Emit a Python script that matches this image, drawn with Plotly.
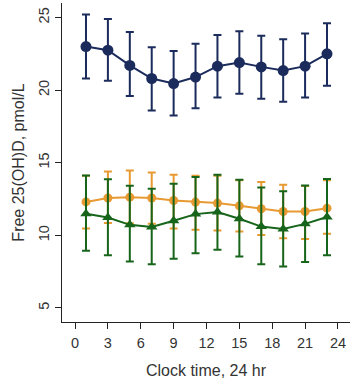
import plotly.graph_objects as go

hours = [1, 3, 5, 7, 9, 11, 13, 15, 17, 19, 21, 23]

blue_mean = [23.0, 22.75, 21.7, 20.8, 20.45, 20.9, 21.65, 21.9, 21.6, 21.35, 21.65, 22.5]
blue_upper = [25.2, 24.9, 24.0, 22.95, 22.7, 23.2, 23.8, 24.05, 23.75, 23.5, 23.9, 24.6]
blue_lower = [20.8, 20.65, 19.6, 18.6, 18.25, 18.75, 19.5, 19.75, 19.4, 19.2, 19.5, 20.3]

orange_mean = [12.3, 12.57, 12.63, 12.57, 12.4, 12.29, 12.22, 12.03, 11.83, 11.64, 11.64, 11.87]
orange_upper = [14.1, 14.4, 14.47, 14.33, 14.17, 14.1, 14.1, 13.8, 13.67, 13.48, 13.4, 13.8]
orange_lower = [10.47, 10.84, 10.83, 10.8, 10.47, 10.38, 10.33, 10.26, 10.03, 9.8, 9.74, 10.1]

green_mean = [11.48, 11.23, 10.72, 10.57, 11.0, 11.46, 11.6, 11.14, 10.6, 10.43, 10.79, 11.26]
green_upper = [14.12, 13.87, 13.41, 13.21, 13.55, 14.01, 14.17, 13.83, 13.3, 13.03, 13.43, 13.88]
green_lower = [8.93, 8.63, 8.2, 8.01, 8.38, 8.77, 9.0, 8.54, 8.0, 7.85, 8.17, 8.63]

x_ticks = [0, 3, 6, 9, 12, 15, 18, 21, 24]
y_ticks = [5, 10, 15, 20, 25]

series = [
    ("navy", blue_mean, blue_upper, blue_lower, "#1b2b5b", "circle", 11),
    ("orange", orange_mean, orange_upper, orange_lower, "#e89a32", "circle", 9),
    ("green", green_mean, green_upper, green_lower, "#17651a", "triangle-up", 10),
]

fig = go.Figure()
for name, m, up, lo, col, sym, sz in series:
    fig.add_trace(go.Scatter(
        x=hours, y=m, name=name, mode="lines+markers",
        line=dict(color=col, width=2),
        marker=dict(color=col, symbol=sym, size=sz),
        error_y=dict(type="data", symmetric=False,
                     array=[u - v for u, v in zip(up, m)],
                     arrayminus=[v - l for v, l in zip(m, lo)],
                     color=col, thickness=2, width=4),
        showlegend=False,
        cliponaxis=False,
    ))

font = dict(family="Liberation Sans, Arial, sans-serif", size=13.5, color="#333333")
tickfont = dict(family="Liberation Sans, Arial, sans-serif", size=14.5, color="#333333")
fig.update_layout(
    width=357, height=381,
    margin=dict(l=62, r=7, t=3, b=59),
    paper_bgcolor="white", plot_bgcolor="white",
    font=font,
    xaxis=dict(range=[-1.19, 25.1], tickvals=x_ticks, showline=True, linecolor="#222222",
               linewidth=1, ticks="outside", ticklen=6, tickcolor="#222222", showgrid=False,
               zeroline=False, tickfont=tickfont, ticklabelstandoff=2,
               title=dict(text="Clock time, 24 hr", standoff=14)),
    yaxis=dict(range=[4.03, 26.0], tickvals=y_ticks, showline=True, linecolor="#222222",
               linewidth=1, ticks="outside", ticklen=6, tickcolor="#222222", showgrid=False,
               zeroline=False, tickangle=-90, tickfont=tickfont, ticklabelstandoff=0,
               title=dict(text="Free 25(OH)D, pmol/L", standoff=7)),
)

fig.write_html("out.html", config={"displayModeBar": False},
               post_script="document.body.style.margin='0';")
